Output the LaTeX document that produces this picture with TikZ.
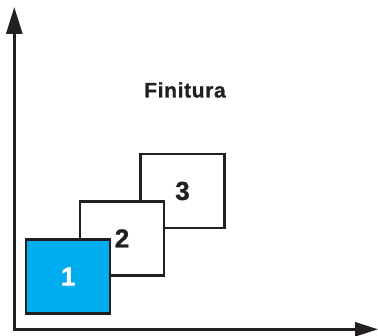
\documentclass[tikz,border=0pt]{standalone}
\usepackage{fontspec}
\setmainfont{Liberation Sans}
\newfontfamily\heavyfont[FakeBold=1.2]{Liberation Sans Bold}
\newfontfamily\titlefont[FakeBold=1,LetterSpace=3]{Liberation Sans Bold}
\usetikzlibrary{arrows.meta}
\definecolor{ink}{HTML}{231F20}
\definecolor{cyanfill}{HTML}{00AEEF}
\begin{document}
\begin{tikzpicture}[x=1pt,y=-1pt,
  axisline/.style={draw=ink,line width=2.6pt},
  stagebox/.style={draw=ink,line width=2.4pt,fill=white,minimum width=84pt,minimum height=74pt,
    inner sep=0pt,font=\heavyfont\fontsize{26}{26}\selectfont,text=ink},
  titletext/.style={font=\titlefont\fontsize{21}{22}\selectfont,text=ink,inner sep=0pt}]
  \useasboundingbox (0,0) rectangle (378,336);
  % axes
  \coordinate (origin) at (14.3,329.3);
  \coordinate (ytip) at (14.3,7);
  \coordinate (xtip) at (378,329.3);
  \draw[axisline,-{Triangle[length=27pt,width=16pt]}] (origin) -- (ytip);
  \draw[axisline,-{Triangle[length=23pt,width=14pt]}] ([xshift=-1.3pt]origin) -- (xtip);
  % stacked stages
  \node[stagebox] (s3) at (182.5,191) {3};
  \node[stagebox] (s2) at (122,238.4) {2};
  \node[stagebox,fill=cyanfill,text=white] (s1) at (68.2,276.6) {1};
  % title
  \node[titletext,anchor=base] (title) at (185,97.5) {Finitura};
\end{tikzpicture}
\end{document}
